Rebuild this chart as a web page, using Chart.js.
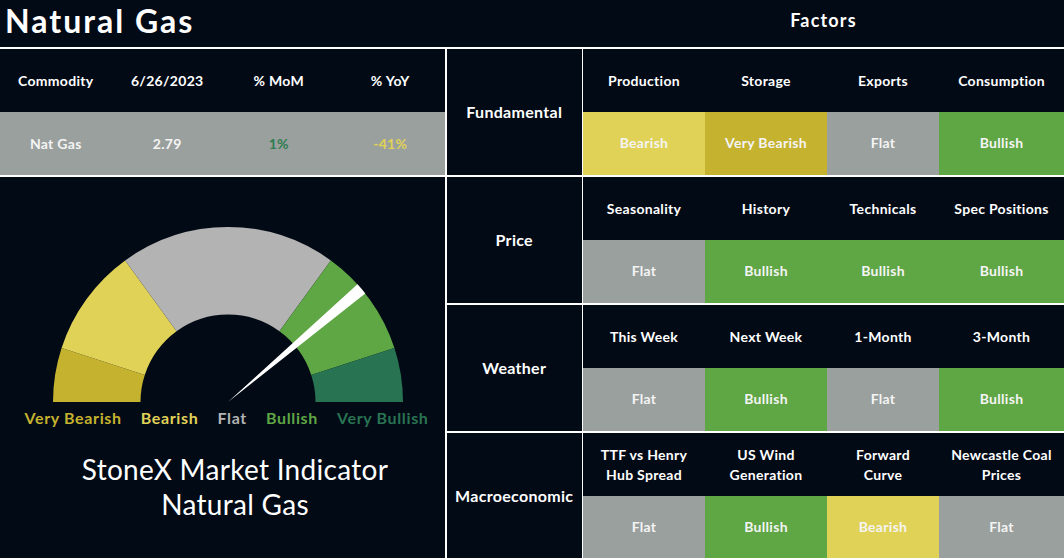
<!DOCTYPE html>
<html lang="en">
<head>
<meta charset="UTF-8">
<title>Natural Gas | StoneX Market Indicator</title>
<script src="https://cdn.jsdelivr.net/npm/chart.js"></script>
<style>
    html, body {
        margin: 0;
        padding: 0;
        width: 1064px;
        height: 558px;
        overflow: hidden;
        background: #020a16;
        font-family: "Lato", "Noto Sans", sans-serif;
        color: #ffffff;
    }
    .abs { position: absolute; }
    .line { position: absolute; background: #ffffff; }
    .title {
        left: 5px; top: 1px;
        font-size: 32px; font-weight: 700;
        letter-spacing: 2px;
    }
    .factors-title {
        left: 583px; width: 481px; top: 9px;
        text-align: center;
        font-size: 18px; font-weight: 700;
        letter-spacing: 1.2px;
    }
    .cell {
        position: absolute;
        display: flex;
        align-items: center;
        justify-content: center;
        text-align: center;
        font-size: 14px;
        font-weight: 700;
        line-height: 20px;
        letter-spacing: 0.3px;
    }
    .group {
        font-size: 16px;
        letter-spacing: 0.3px;
    }
    .gauge-labels {
        position: absolute;
        top: 408px;
        left: 0; width: 453px;
        display: flex;
        justify-content: center;
        gap: 19px;
        font-size: 16px;
        font-weight: 700;
        letter-spacing: 0.65px;
    }
    .indicator {
        left: 0; width: 470px; top: 452px;
        text-align: center;
        font-size: 28px;
        line-height: 35px;
        font-weight: 400;
        letter-spacing: 0.3px;
    }
    #gauge, #needle {
        position: absolute;
        left: 53px; top: 227px;
    }
</style>
</head>
<body>
<div class="abs title">Natural Gas</div>
<div class="abs factors-title">Factors</div>
<div id="tables"></div>
<div class="gauge-labels" id="gaugeLabels"></div>
<div class="abs indicator">StoneX Market Indicator<br>Natural Gas</div>
<div id="gauge"><canvas id="gaugeChart"></canvas></div>
<div id="needle"><canvas id="needleChart"></canvas></div>

<script>
    // gauge bands (share of the half circle)
    const gaugeLabels = ['Very Bearish', 'Bearish', 'Flat', 'Bullish', 'Very Bullish'];
    const gaugeValues = [10, 20, 40, 20, 10];
    // needle: start position, needle width, remainder (same 0-100 scale)
    const needleValues = [76.5, 2.2, 21.3];

    // commodity summary
    const commodityHeaders = ['Commodity', '6/26/2023', '% MoM', '% YoY'];
    const commodityRow = ['Nat Gas', '2.79', '1%', '-41%'];

    // factors
    const factorGroups = ['Fundamental', 'Price', 'Weather', 'Macroeconomic'];
    const factorNames = [
        ['Production', 'Storage', 'Exports', 'Consumption'],
        ['Seasonality', 'History', 'Technicals', 'Spec Positions'],
        ['This Week', 'Next Week', '1-Month', '3-Month'],
        ['TTF vs Henry<br>Hub Spread', 'US Wind<br>Generation', 'Forward<br>Curve', 'Newcastle Coal<br>Prices']
    ];
    const factorSignals = [
        ['Bearish', 'Very Bearish', 'Flat', 'Bullish'],
        ['Flat', 'Bullish', 'Bullish', 'Bullish'],
        ['Flat', 'Bullish', 'Flat', 'Bullish'],
        ['Flat', 'Bullish', 'Bearish', 'Flat']
    ];

    const signalColors = {
        'Very Bearish': '#c5b22f',
        'Bearish': '#e0d256',
        'Flat': '#9aa09e',
        'Bullish': '#5fa644',
        'Very Bullish': '#287452'
    };
    const gaugeColors = ['#c5b22f', '#e0d256', '#b3b3b3', '#5fa644', '#287452'];
    const labelColors = ['#c5b22f', '#e0d256', '#b3b3b3', '#5fa644', '#287452'];

    const box = document.getElementById('tables');
    function add(cls, x, y, w, h, html, bg, color) {
        const d = document.createElement('div');
        d.className = cls;
        d.style.left = x + 'px';
        d.style.top = y + 'px';
        d.style.width = w + 'px';
        d.style.height = h + 'px';
        if (html) d.innerHTML = html;
        if (bg) d.style.background = bg;
        if (color) d.style.color = color;
        box.appendChild(d);
        return d;
    }

    // left summary table
    const leftW = 446 / 4;
    commodityHeaders.forEach((h, i) => add('cell', i * leftW, 49, leftW, 63, h));
    add('abs', 0, 112, 446, 63, '', '#9aa09e');
    const rowColors = ['#f4f4f4', '#f4f4f4', '#2f7d50', '#e0d256'];
    commodityRow.forEach((v, i) => add('cell', i * leftW, 112, leftW, 63, v, null, rowColors[i]));

    // factor grid
    const colX = [583, 705, 827, 939, 1064];
    const blockTop = [49, 177, 305, 433];
    const blockBottom = [174.5, 302.5, 430.5, 558];
    factorGroups.forEach((g, r) => {
        const top = blockTop[r];
        const mid = top + 63;
        add('cell group', 447, top, 134.5, blockBottom[r] - top, g);
        for (let c = 0; c < 4; c++) {
            const w = colX[c + 1] - colX[c];
            add('cell', colX[c], top, w, 63, factorNames[r][c]);
            const s = factorSignals[r][c];
            add('cell', colX[c], mid, w, blockBottom[r] - mid, s, signalColors[s], '#f4f4f4');
        }
    });

    // white rules
    add('line', 0, 47, 1064, 2);
    add('line', 0, 174.5, 1064, 2);
    add('line', 447, 302.5, 617, 2);
    add('line', 447, 430.5, 617, 2);
    add('line', 445, 47, 2, 511);
    add('line', 581.5, 47, 1.8, 511);

    // gauge labels
    const gl = document.getElementById('gaugeLabels');
    gaugeLabels.forEach((l, i) => {
        const s = document.createElement('span');
        s.textContent = l;
        s.style.color = labelColors[i];
        gl.appendChild(s);
    });

    // gauge sizing: canvas box 2R x R
    const R = 175;
    ['gauge', 'needle'].forEach(id => {
        const el = document.getElementById(id);
        el.style.width = (2 * R) + 'px';
        el.style.height = R + 'px';
    });

    const half = {
        responsive: true,
        maintainAspectRatio: false,
        animation: false,
        rotation: -90,
        circumference: 180,
        layout: { padding: 0 },
        plugins: { legend: { display: false }, tooltip: { enabled: false } }
    };

    new Chart(document.getElementById('gaugeChart'), {
        type: 'doughnut',
        data: {
            labels: gaugeLabels,
            datasets: [{
                data: gaugeValues,
                backgroundColor: gaugeColors,
                borderWidth: 0
            }]
        },
        options: Object.assign({}, half, { cutout: '50%' })
    });

    new Chart(document.getElementById('needleChart'), {
        type: 'pie',
        data: {
            labels: ['', 'Needle', ''],
            datasets: [{
                data: needleValues,
                backgroundColor: ['rgba(0,0,0,0)', '#ffffff', 'rgba(0,0,0,0)'],
                borderWidth: 0
            }]
        },
        options: half
    });
</script>
</body>
</html>
